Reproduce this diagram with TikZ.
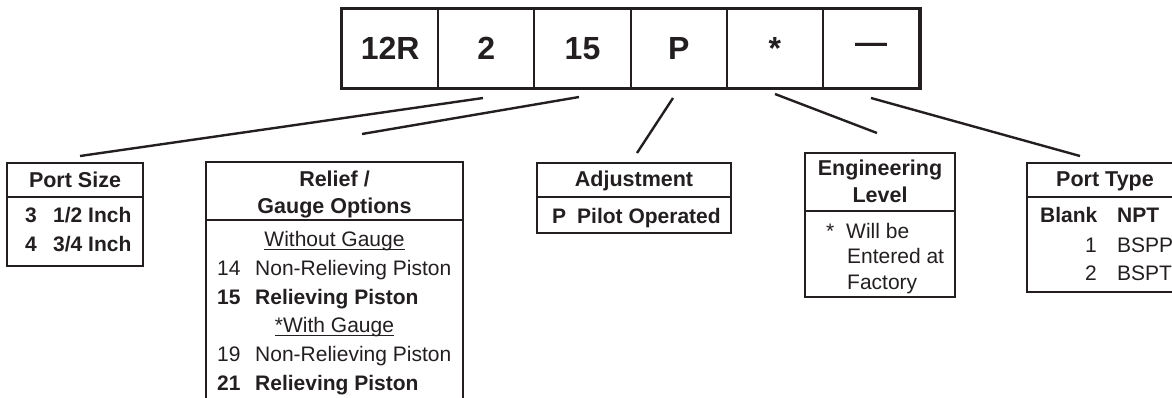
\documentclass[tikz,border=0pt]{standalone}
\usepackage{fontspec}
\setmainfont{Liberation Sans}
\definecolor{ink}{HTML}{231F20}
\begin{document}
\begin{tikzpicture}[x=1pt,y=-1pt,
  frame/.style={line width=2.6pt, draw=ink},
  rulel/.style={line width=2pt, draw=ink},
  conn/.style={line width=2.4pt, draw=ink, line cap=butt},
  cell/.style={draw=ink, line width=2pt, minimum width=96.2pt, minimum height=79pt, inner sep=0pt,
    font=\fontsize{32}{32}\selectfont\bfseries, text=ink},
  hd/.style={inner sep=0pt, anchor=base, font=\fontsize{21.5}{26}\selectfont\bfseries, text=ink},
  bd/.style={inner sep=0pt, anchor=base west, font=\fontsize{21}{25}\selectfont\bfseries, text=ink},
  rg/.style={inner sep=0pt, anchor=base west, font=\fontsize{21}{25}\selectfont, text=ink},
  uline/.style={line width=1.3pt, draw=ink}
]
\useasboundingbox (0,0) rectangle (1172,397);
\clip (0,0) rectangle (1172,397);

% ---- top code boxes
\node[cell] (c1) at (390.1,48.5) {12R};
\node[cell] (c2) at (486.3,48.5) {2};
\node[cell] (c3) at (582.5,48.5) {15};
\node[cell] (c4) at (678.7,48.5) {P};
\node[cell] (c5) at (774.9,48.5) {*};
\node[cell] (c6) at (871.1,48.5) {\textemdash};
\draw[frame] (c1.north west) rectangle (c6.south east);

% ---- connector end points
\coordinate (a1) at (483,98);  \coordinate (b1) at (80,156);
\coordinate (a2) at (579,97);  \coordinate (b2) at (362,134);
\coordinate (a3) at (673,98);  \coordinate (b3) at (637,153);
\coordinate (a4) at (775,94);  \coordinate (b4) at (877,133);
\coordinate (a5) at (871,98);  \coordinate (b5) at (1080,156);
\draw[conn] (a1) -- (b1);
\draw[conn] (a2) -- (b2);
\draw[conn] (a3) -- (b3);
\draw[conn] (a4) -- (b4);
\draw[conn] (a5) -- (b5);

% ---- Port Size
\draw[frame] (7,163) rectangle (143,266);
\draw[rulel] (7,197) -- (143,197);
\node[hd] (psh) at (75,187.7) {Port Size};
\node[bd] (ps1n) at (25,222.5) {3};
\node[bd] (ps1t) at (53,222.5) {1/2 Inch};
\node[bd] (ps2n) at (25,251.5) {4};
\node[bd] (ps2t) at (53,251.5) {3/4 Inch};

% ---- Relief / Gauge Options
\draw[frame] (206,402) -- (206,162) -- (463,162) -- (463,402);
\draw[rulel] (206,220) -- (463,220);
\node[hd] (rgh1) at (334.5,186.7) {Relief /};
\node[hd] (rgh2) at (334.5,213.2) {Gauge Options};
\node[rg, anchor=base] (wog) at (334.5,246.5) {Without Gauge};
\draw[uline] ([yshift=-3pt]wog.base west) -- ([yshift=-3pt]wog.base east);
\node[rg] (r14n) at (217,275.5) {14};
\node[rg] (r14t) at (255,275.5) {Non-Relieving Piston};
\node[bd] (r15n) at (217,304.5) {15};
\node[bd] (r15t) at (255,304.5) {Relieving Piston};
\node[rg, anchor=base] (wg) at (334.5,332.5) {*With Gauge};
\draw[uline] ([yshift=-3pt]wg.base west) -- ([yshift=-3pt]wg.base east);
\node[rg] (r19n) at (217,361.5) {19};
\node[rg] (r19t) at (255,361.5) {Non-Relieving Piston};
\node[bd] (r21n) at (217,390.5) {21};
\node[bd] (r21t) at (255,390.5) {Relieving Piston};

% ---- Adjustment
\draw[frame] (537,163) rectangle (731,233);
\draw[rulel] (537,197) -- (731,197);
\node[hd] (adh) at (634,186.7) {Adjustment};
\node[bd] (adn) at (552,223.5) {P};
\node[bd] (adt) at (577,223.5) {Pilot Operated};

% ---- Engineering Level
\draw[frame] (805,153) rectangle (955,297);
\draw[rulel] (805,211) -- (955,211);
\node[hd] (elh1) at (880,175.7) {Engineering};
\node[hd] (elh2) at (880,202.7) {Level};
\node[rg] (els) at (826,238.5) {*};
\node[rg] (el1) at (846,238.5) {Will be};
\node[rg] (el2) at (847,263.5) {Entered at};
\node[rg] (el3) at (847,289.5) {Factory};

% ---- Port Type
\draw[frame] (1027,163) rectangle (1184,292);
\draw[rulel] (1027,197) -- (1184,197);
\node[hd] (pth) at (1105,186.7) {Port Type};
\node[bd] (pt0n) at (1040,222.5) {Blank};
\node[bd] (pt0t) at (1117,222.5) {NPT};
\node[rg, anchor=base east] (pt1n) at (1097,252) {1};
\node[rg] (pt1t) at (1117,252) {BSPP};
\node[rg, anchor=base east] (pt2n) at (1097,280.5) {2};
\node[rg] (pt2t) at (1117,280.5) {BSPT};
\end{tikzpicture}
\end{document}
